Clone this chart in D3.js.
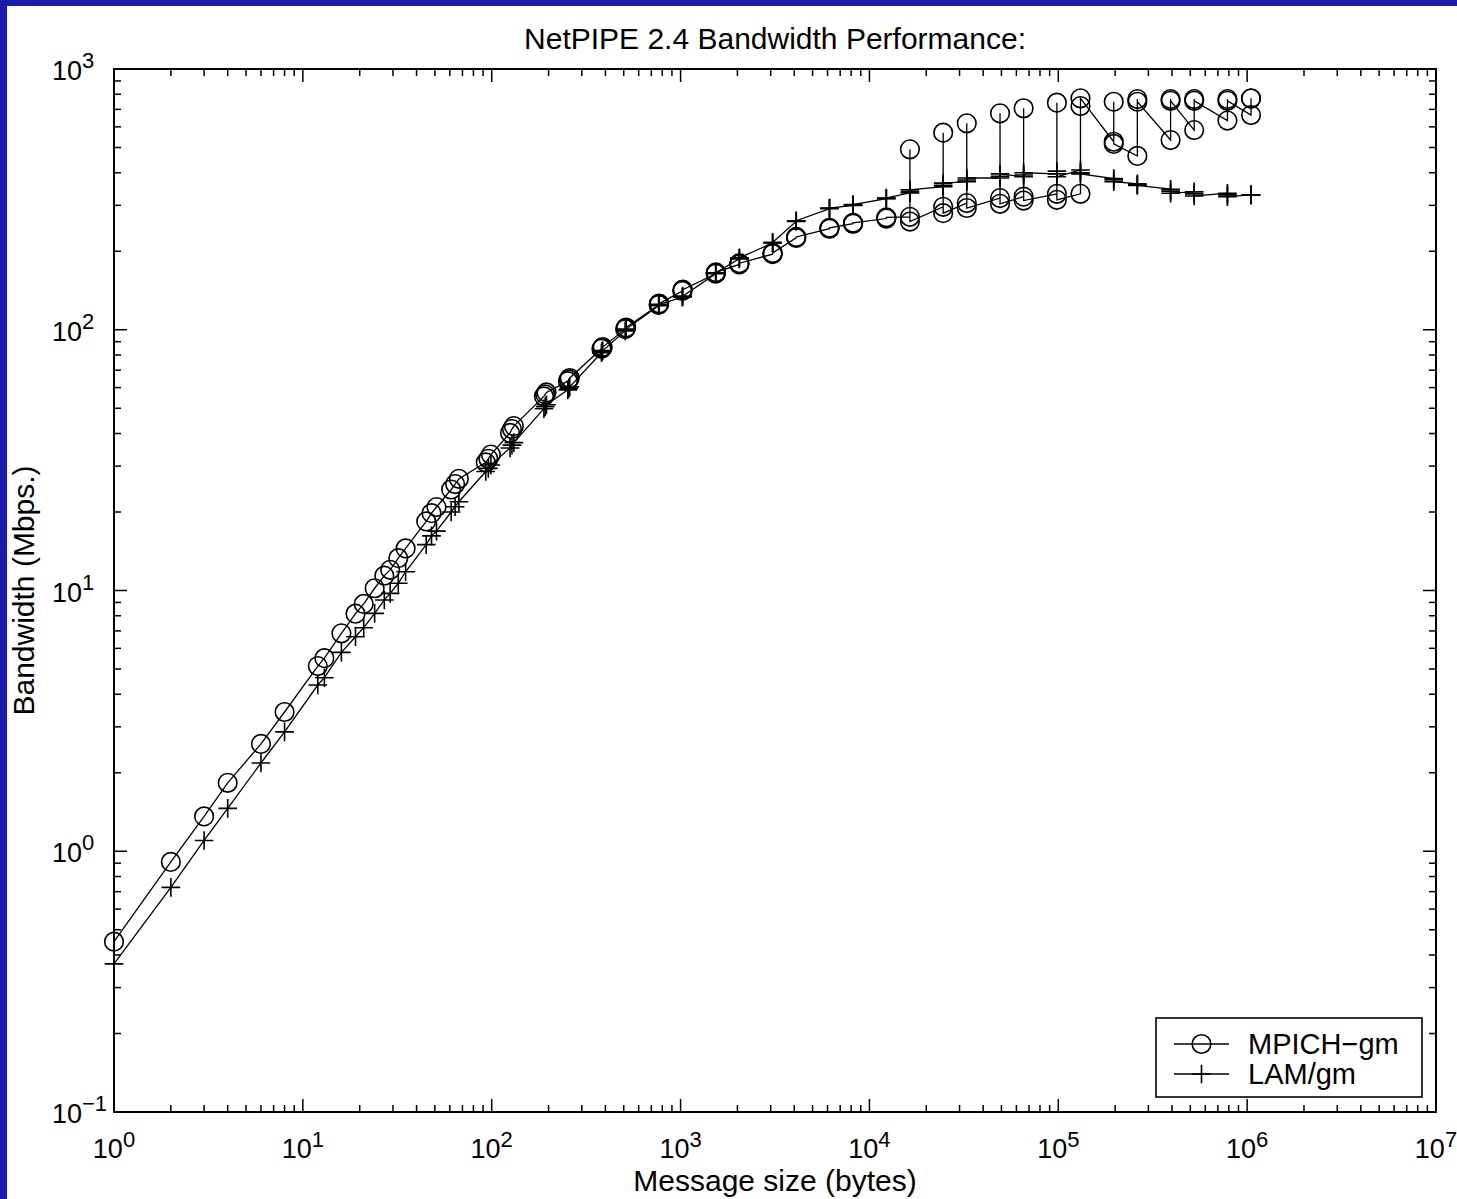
<!DOCTYPE html>
<html>
<head>
<meta charset="utf-8">
<script src="https://cdn.jsdelivr.net/npm/d3@7"></script>
<style>
  html, body { margin: 0; padding: 0; background: #1c1ca6; }
  svg { display: block; }
  text { font-family: "Liberation Sans", Arial, Helvetica, sans-serif; fill: #000; }
</style>
</head>
<body>
<svg id="chart" width="1457" height="1199"></svg>
<script>
// ---------------- DATA ----------------
const title = "NetPIPE 2.4 Bandwidth Performance:";
const xLabel = "Message size (bytes)";
const yLabel = "Bandwidth (Mbps.)";
const seriesNames = ["MPICH\u2212gm", "LAM/gm"];

const messageSizes = [
  1, 2, 3, 4, 6, 8,
  12, 13, 16, 19, 21, 24, 27, 29, 32, 35,
  45, 48, 51, 61, 64, 67, 93, 96, 99,
  125, 128, 131, 189, 192, 195, 253, 256, 259,
  381, 384, 387, 509, 512, 515, 765, 768, 771,
  1021, 1024, 1027, 1533, 1536, 1539, 2045, 2048, 2051,
  3069, 3072, 3075, 4093, 4096, 4099, 6141, 6144, 6147,
  8189, 8192, 8195, 12285, 12288, 12291, 16381, 16384, 16387,
  24573, 24576, 24579, 32765, 32768, 32771, 49149, 49152, 49155,
  65533, 65536, 65539, 98301, 98304, 98307, 131069, 131072, 131075,
  196605, 196608, 196611, 262141, 262144, 262147, 393213, 393216, 393219,
  524285, 524288, 524291, 786429, 786432, 786435, 1048573, 1048576, 1048579
];

const mpichMbps = [
  0.45, 0.91, 1.36, 1.83, 2.58, 3.42,
  5.13, 5.5, 6.85, 8.15, 8.88, 10.2, 11.4, 12.0, 13.3, 14.5,
  18.4, 19.8, 20.9, 24.4, 25.6, 26.8, 31.0, 32.0, 33.2,
  40.2, 41.6, 42.7, 55.5, 56.5, 57.5, 63.5, 64.5, 65.3,
  84.5, 85.2, 85.8, 100.5, 101.3, 102, 124.5, 125.6, 126,
  140.8, 142, 142.5, 164, 165, 166, 178, 179, 180,
  195, 196, 197, 225, 226, 227, 244, 245, 246,
  255, 256, 257, 267, 268, 270, 271, 492, 260,
  296, 570, 280, 306, 619, 293, 320, 676, 304,
  324, 707, 313, 332, 743, 315, 332, 721, 772,
  526, 749, 516, 464, 767, 749, 534, 767, 755,
  583, 767, 755, 634, 767, 755, 666, 772, 770
];

const lamMbps = [
  0.37, 0.727, 1.10, 1.46, 2.18, 2.87,
  4.34, 4.63, 5.79, 6.65, 7.2, 8.17, 9.2, 9.75, 10.66, 11.8,
  15.0, 16.2, 16.9, 20.0, 20.96, 21.9, 28.6, 29.4, 30.3,
  35.2, 36.1, 36.9, 49.8, 50.7, 51.6, 58.8, 59.6, 60.4,
  81.6, 82.4, 83.2, 99, 99.8, 100.6, 123.6, 124.4, 125.2,
  133.2, 133.9, 134.6, 164, 164.7, 165.4, 187, 187.9, 188.8,
  215, 215.7, 216.4, 260, 261.2, 262, 291, 292.2, 293,
  300, 300.9, 301.8, 318, 319, 320, 335, 338, 344,
  354, 358, 365, 370, 375, 382, 382, 388, 396,
  386, 392, 400, 396, 406, 386, 410, 400, 396,
  380, 376, 370, 363, 360, 358, 346, 340, 334,
  338, 332, 326, 334, 329, 324, 329, 329, 329
];

const xTickExponents = [0, 1, 2, 3, 4, 5, 6, 7];
const yTickExponents = [-1, 0, 1, 2, 3];

// ---------------- LAYOUT ----------------
const W = 1457, H = 1199;
const plot = { left: 114, right: 1436, top: 69, bottom: 1112 };
const FONT = 27, SUP = 22, LABEL = 30, LEGEND = 29;

const svg = d3.select("#chart");

// white page inside blue frame
svg.append("rect").attr("x", 7).attr("y", 6).attr("width", W - 7).attr("height", H - 6).attr("fill", "#fff");

const x = d3.scaleLog().domain([1, 1e7]).range([plot.left, plot.right]);
const y = d3.scaleLog().domain([0.1, 1000]).range([plot.bottom, plot.top]);

// ---------------- TICKS ----------------
function logTicks(scale) {
  const [a, b] = scale.domain();
  const e0 = Math.round(Math.log10(a)), e1 = Math.round(Math.log10(b));
  const out = [];
  for (let e = e0; e <= e1; e++) {
    for (let m = 1; m <= 9; m++) {
      const v = m * Math.pow(10, e);
      if (v > b * 1.0001) break;
      out.push({ v, major: m === 1 });
    }
  }
  return out;
}

const axisG = svg.append("g").attr("stroke", "#000").attr("stroke-width", 1.5);
const MAJ = 13, MIN = 7;
logTicks(x).forEach(t => {
  const px = x(t.v), len = t.major ? MAJ : MIN;
  axisG.append("line").attr("x1", px).attr("x2", px).attr("y1", plot.bottom).attr("y2", plot.bottom - len);
  axisG.append("line").attr("x1", px).attr("x2", px).attr("y1", plot.top).attr("y2", plot.top + len);
});
logTicks(y).forEach(t => {
  const py = y(t.v), len = t.major ? MAJ : MIN;
  axisG.append("line").attr("y1", py).attr("y2", py).attr("x1", plot.left).attr("x2", plot.left + len);
  axisG.append("line").attr("y1", py).attr("y2", py).attr("x1", plot.right).attr("x2", plot.right - len);
});

// box
svg.append("rect")
  .attr("x", plot.left).attr("y", plot.top)
  .attr("width", plot.right - plot.left).attr("height", plot.bottom - plot.top)
  .attr("fill", "none").attr("stroke", "#000").attr("stroke-width", 2);

// tick labels
xTickExponents.forEach(e => {
  const t = svg.append("text")
    .attr("x", x(Math.pow(10, e))).attr("y", plot.bottom + 46)
    .attr("text-anchor", "middle").attr("font-size", FONT);
  t.append("tspan").text("10");
  t.append("tspan").attr("dy", -11).attr("font-size", SUP).text(String(e).replace("-", "\u2212"));
});
yTickExponents.forEach(e => {
  const py = y(Math.pow(10, e));
  svg.append("text").attr("x", 82).attr("y", py + 11)
    .attr("text-anchor", "end").attr("font-size", FONT).text("10");
  svg.append("text").attr("x", 82).attr("y", py - 1)
    .attr("text-anchor", "start").attr("font-size", SUP).text(String(e).replace("-", "\u2212"));
});

// titles
svg.append("text").attr("x", (plot.left + plot.right) / 2).attr("y", 49)
  .attr("text-anchor", "middle").attr("font-size", LABEL).text(title);
svg.append("text").attr("x", (plot.left + plot.right) / 2).attr("y", 1191)
  .attr("text-anchor", "middle").attr("font-size", LABEL).text(xLabel);
svg.append("text")
  .attr("transform", `translate(34,${(plot.top + plot.bottom) / 2}) rotate(-90)`)
  .attr("text-anchor", "middle").attr("font-size", LABEL).text(yLabel);

// ---------------- SERIES ----------------
const R = 9.3;
const series = [
  { name: seriesNames[0], values: mpichMbps, marker: "circle" },
  { name: seriesNames[1], values: lamMbps, marker: "plus" }
];

const line = d3.line().x(d => x(d[0])).y(d => y(d[1]));

function drawMarker(g, kind, cx, cy) {
  if (kind === "circle") {
    g.append("circle").attr("cx", cx).attr("cy", cy).attr("r", R)
      .attr("fill", "none").attr("stroke", "#000").attr("stroke-width", 1.6);
  } else {
    g.append("path").attr("d", `M${cx - R},${cy}H${cx + R}M${cx},${cy - R}V${cy + R}`)
      .attr("fill", "none").attr("stroke", "#000").attr("stroke-width", 1.6);
  }
}

series.forEach(s => {
  const pts = messageSizes.map((m, i) => [m, s.values[i]]);
  svg.append("path").datum(pts).attr("d", line)
    .attr("fill", "none").attr("stroke", "#000").attr("stroke-width", 1.3);
  const g = svg.append("g");
  pts.forEach(p => drawMarker(g, s.marker, x(p[0]), y(p[1])));
});

// ---------------- LEGEND ----------------
const lg = { x: 1156, y: 1018, w: 266, h: 79 };
svg.append("rect").attr("x", lg.x).attr("y", lg.y).attr("width", lg.w).attr("height", lg.h)
  .attr("fill", "#fff").attr("stroke", "#000").attr("stroke-width", 1.6);
series.forEach((s, i) => {
  const ly = lg.y + 26 + i * 30;
  svg.append("line").attr("x1", lg.x + 18).attr("x2", lg.x + 73).attr("y1", ly).attr("y2", ly)
    .attr("stroke", "#000").attr("stroke-width", 1.3);
  drawMarker(svg, s.marker, lg.x + 45.5, ly);
  svg.append("text").attr("x", lg.x + 92).attr("y", ly + 10).attr("font-size", LEGEND).text(s.name);
});
</script>
</body>
</html>
